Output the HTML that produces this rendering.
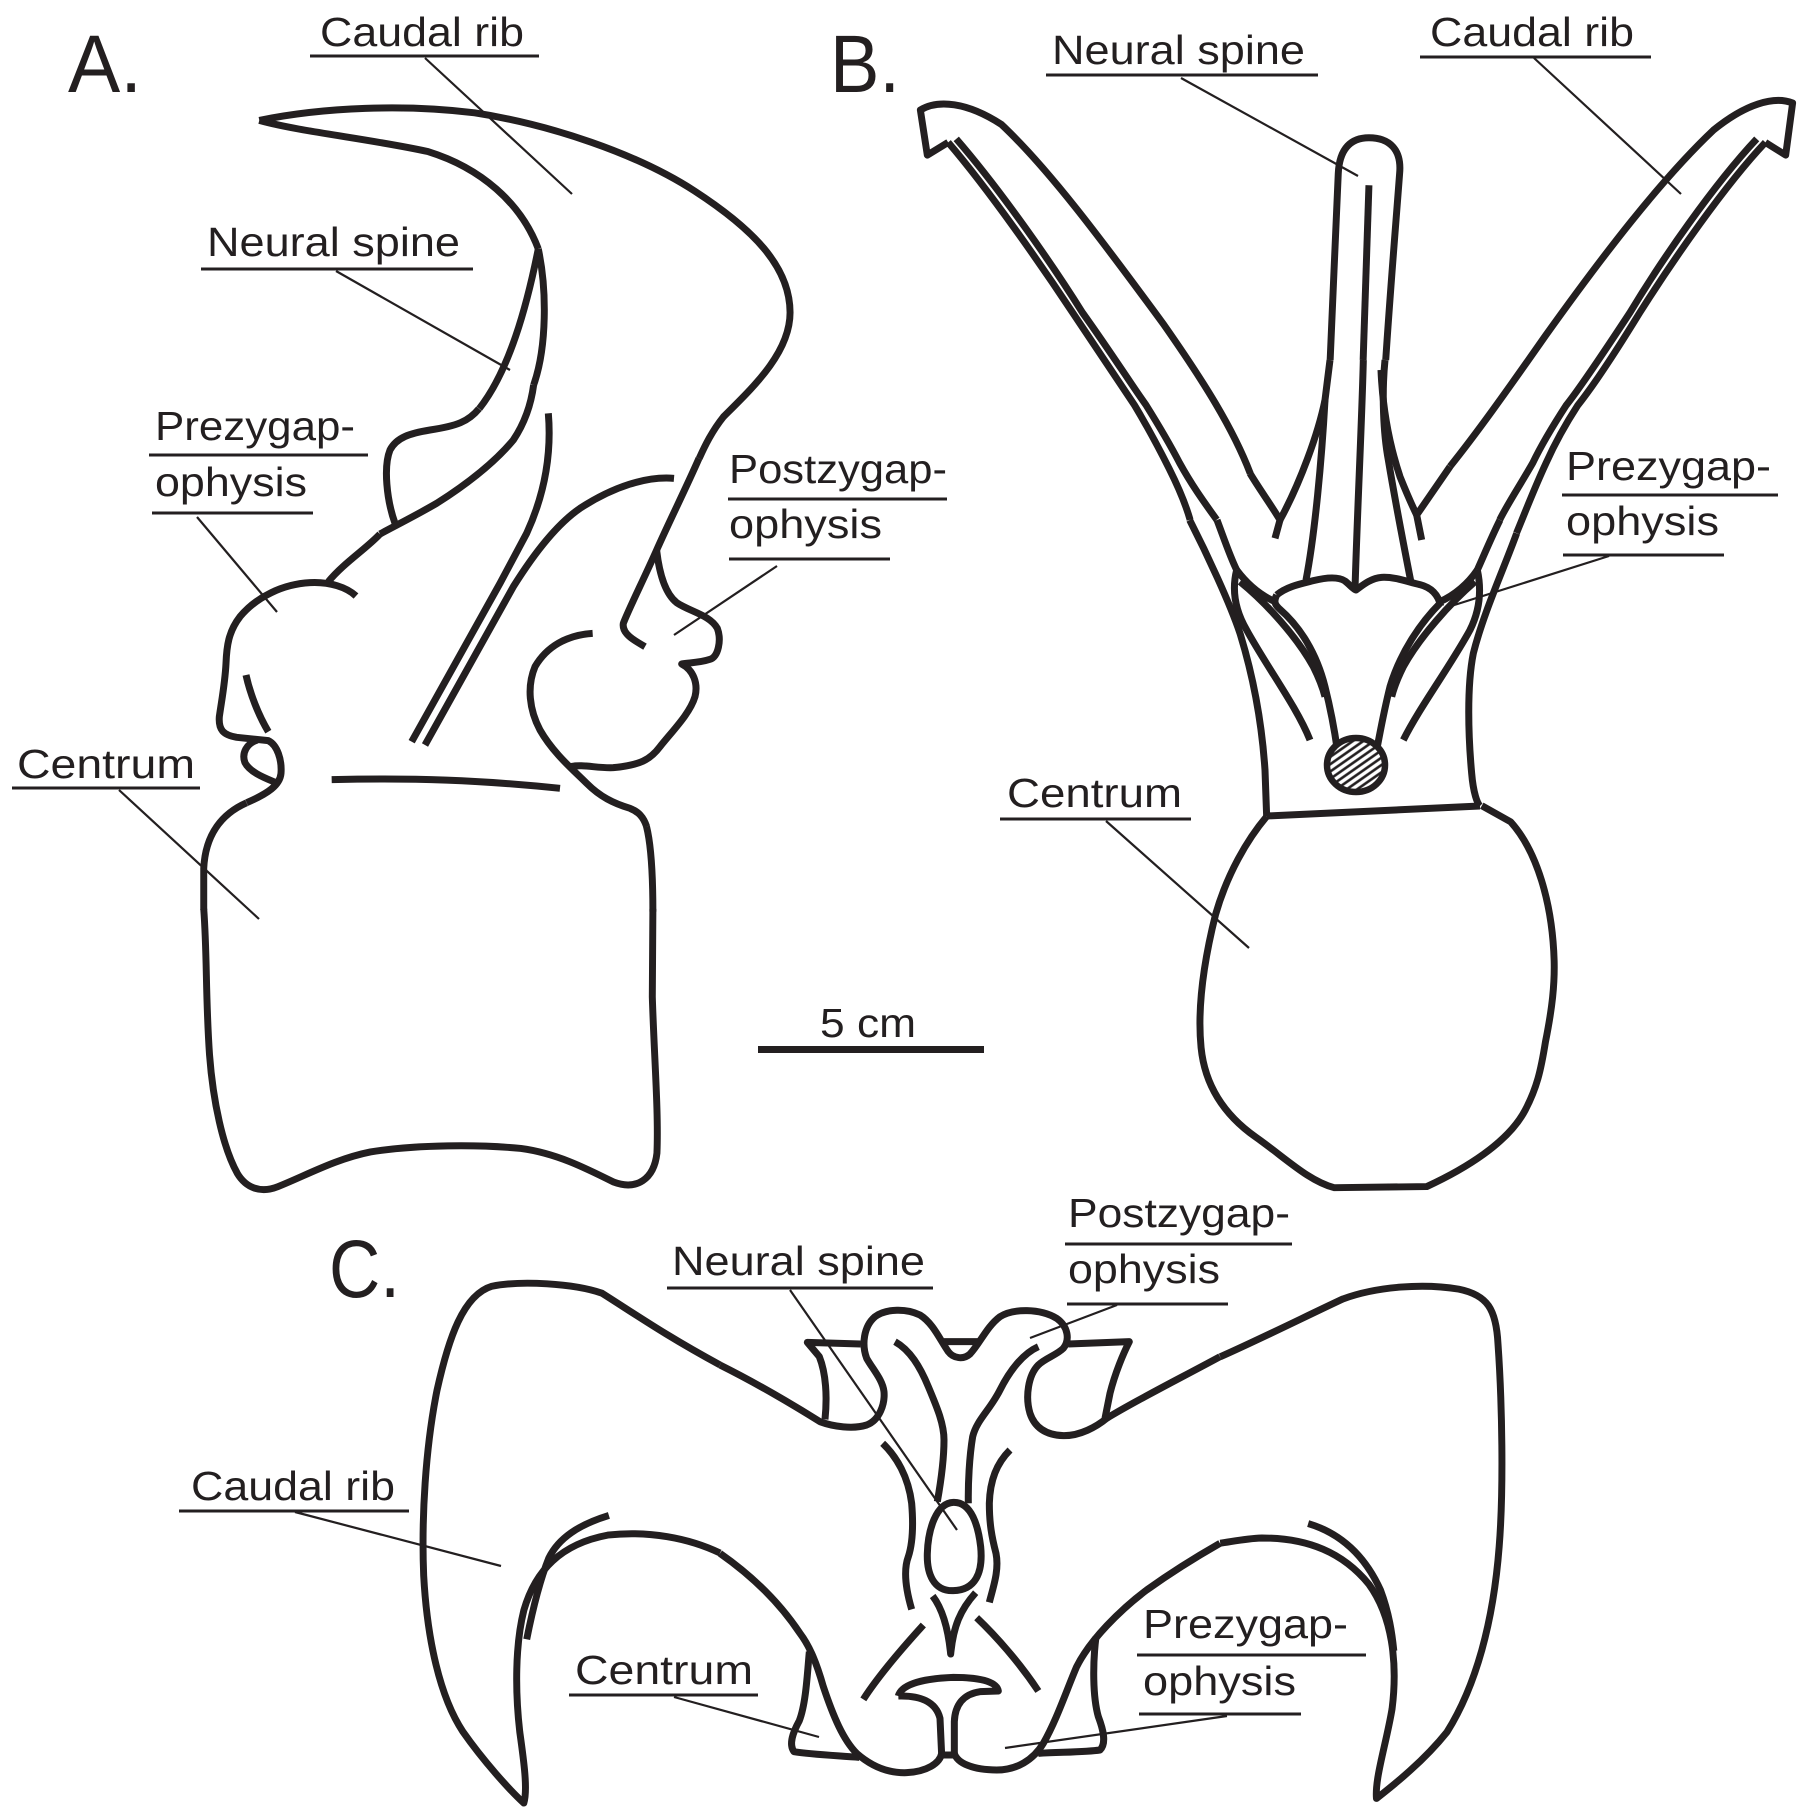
<!DOCTYPE html>
<html><head><meta charset="utf-8"><style>
html,body{margin:0;padding:0;background:#fff;}
svg{display:block;}
text{font-family:"Liberation Sans",Arial,sans-serif;fill:#231f20;}
</style></head><body>
<svg width="1806" height="1820" viewBox="0 0 1806 1820" xmlns="http://www.w3.org/2000/svg">
<defs>
<pattern id="hatch" patternUnits="userSpaceOnUse" width="6" height="6" patternTransform="rotate(-35)">
<rect width="6" height="6" fill="#fff"/><line x1="0" y1="3" x2="6" y2="3" stroke="#231f20" stroke-width="2.6"/>
</pattern>
</defs>
<rect width="1806" height="1820" fill="#fff"/>

<g fill="none" stroke="#231f20" stroke-linejoin="round">
<!-- ===== A ===== -->
<g transform="scale(0.5788)" stroke-width="12">
<path d="M448,208 C560,185 700,180 820,195 C950,215 1100,265 1200,330 C1300,395 1365,460 1365,540 C1365,610 1300,670 1250,720 C1230,745 1218,770 1208,792"/>
<path d="M448,208 C520,228 640,240 740,262 C830,290 900,350 930,430"/>
<path d="M930,430 C910,530 880,640 828,706"/>
<path d="M930,430 C945,500 945,600 922,665"/>
<path d="M426,1387 C385,1405 355,1440 352,1500 L352,1572"/>
<path d="M1117,1428 C1125,1460 1128,1520 1128,1575"/>
</g>
<g transform="translate(380,380) scale(0.33333)" stroke-width="21">
<path d="M957,235 C920,320 870,420 830,510 C790,600 745,690 730,730 C725,760 760,780 795,800"/>
<path d="M297,86 C265,125 230,138 150,150 C90,160 50,172 30,210 C10,260 20,360 45,430"/>
<path d="M461,14 C455,60 440,120 400,180 C350,240 280,300 170,370 C110,405 50,435 0,462"/>
<path d="M638,760 C560,765 500,800 465,860 C440,920 448,990 480,1050 C520,1120 580,1170 620,1210 C660,1250 700,1270 750,1285 C775,1295 790,1310 800,1340"/>
<path d="M830,512 C838,580 855,640 890,668 C930,695 990,705 1012,745 C1025,780 1015,830 990,838 C960,848 930,848 905,852 C940,870 955,910 945,950 C930,1000 880,1050 840,1100 C810,1140 780,1155 700,1163 C650,1165 610,1152 570,1160"/>
<path d="M505,100 C515,220 495,340 440,460 L360,610 L95,1085"/>
<path d="M882,295 C800,288 700,320 600,385 C520,440 450,540 400,620 L135,1095"/>
<path d="M-145,1199 C100,1193 300,1200 540,1225"/>
</g>
<g transform="translate(200,540) scale(0.33333)" stroke-width="21">
<path d="M540,-18 C500,25 430,70 385,125"/>
<path d="M468,168 C440,142 390,125 330,128 C250,132 170,170 120,230 C85,275 80,320 78,370 C75,430 65,480 58,530 C55,570 70,585 110,592 L205,602 C232,615 246,660 243,700 C240,735 205,760 140,788"/>
<path d="M172,600 C140,610 124,640 135,668 C150,698 200,716 228,728"/>
<path d="M138,405 C150,460 175,525 205,575"/>
</g>
<g transform="translate(0,910) scale(0.5788)" stroke-width="12">
<path d="M352,-2 C358,80 355,150 362,250 C368,330 385,410 410,455 C425,480 450,490 480,478 C530,458 580,430 640,418 C720,405 830,405 900,412 C960,420 1010,445 1060,470 C1100,485 1130,465 1135,420 C1138,350 1130,250 1127,150 L1128,-2"/>
</g>

<!-- ===== B ===== -->
<g transform="translate(903,0) scale(0.5788)" stroke-width="12">
<path d="M78,246 L42,268 L30,190 C60,172 110,176 170,215 C250,290 340,410 450,560 C520,660 570,740 600,818"/>
<path d="M78,246 C150,330 240,460 293,540 C340,610 380,670 400,700 C430,750 450,790 460,810 C475,840 488,870 496,898"/>
<path d="M92,240 C170,330 260,460 310,540 C360,610 395,665 420,700 C445,740 465,775 478,800 C500,840 522,870 542,898"/>
<path d="M1490,246 L1525,268 L1537,178 C1505,165 1455,180 1400,225 C1310,310 1210,440 1110,580 C1040,680 990,750 945,806"/>
<path d="M1490,246 C1420,320 1330,450 1273,540 C1230,610 1190,670 1166,700 C1140,740 1120,780 1111,800 C1090,845 1075,885 1060,921"/>
<path d="M1475,240 C1400,320 1310,450 1256,540 C1210,610 1170,670 1146,700 C1120,740 1100,775 1088,800 C1065,840 1045,870 1031,898"/>
<path d="M738,622 C742,520 748,400 752,300 C754,255 775,238 805,238 C840,238 862,258 858,300 C852,380 842,500 834,622"/>
<path d="M805,320 C802,420 798,520 795,622"/>
<path d="M628,1411 C595,1450 560,1510 540,1580 C520,1660 508,1740 515,1810 C522,1880 560,1930 610,1965 C660,2000 700,2040 745,2052 L905,2050 C970,2020 1045,1975 1075,1918 C1095,1880 1102,1850 1110,1800 C1122,1740 1126,1700 1125,1660 C1122,1560 1095,1470 1050,1420 L1000,1392"/>
</g>
<g transform="translate(1250,360) scale(0.33333)" stroke-width="21">
<path d="M0,340 C30,390 60,430 90,480 L75,535"/>
<path d="M600,320 L500,465 L515,540"/>
<path d="M240,0 L225,120 C205,220 150,370 90,480"/>
<path d="M225,120 C215,300 195,520 168,660"/>
<path d="M340,0 C335,200 322,450 315,688"/>
<path d="M405,0 C395,100 400,220 415,300 C435,420 462,560 482,662"/>
<path d="M393,30 C398,150 420,260 450,350 C470,400 488,440 500,465"/>
<path d="M80,705 C110,680 150,672 190,662 C230,652 265,650 285,663 C300,675 310,688 318,690 C335,678 360,655 395,652 C435,650 470,665 510,674 C545,683 565,705 572,738"/>
</g>
<g transform="translate(1140,520) scale(0.33333)" stroke-width="21">
<path d="M149,0 C200,100 270,250 300,340 C340,470 365,600 375,750 L380,890"/>
<path d="M231,0 C250,50 270,110 290,150"/>
<path d="M290,150 C320,190 360,225 405,245"/>
<path d="M290,150 C275,210 285,270 320,330 C380,440 470,560 510,660"/>
<path d="M300,185 C380,250 470,350 520,440 C540,480 550,510 555,530"/>
<path d="M410,225 C400,245 405,255 420,268 C480,320 530,400 555,500 C575,580 585,640 592,690"/>
<path d="M900,250 C840,310 780,400 750,500 C730,580 720,640 710,690"/>
<path d="M1005,185 C930,250 840,350 790,440 C770,480 760,510 755,530"/>
<path d="M1012,150 C1025,210 1020,270 990,330 C930,440 840,560 790,660"/>
<path d="M1012,150 C985,190 945,225 900,245"/>
<path d="M1080,0 C1055,50 1030,110 1012,150"/>
<path d="M1130,40 C1090,150 1030,280 1000,400 C980,500 985,650 995,760 C1000,820 1012,850 1020,858"/>
<path d="M380,888 L1020,858"/>
</g>
<ellipse cx="1356" cy="765" rx="29" ry="27" fill="url(#hatch)" stroke-width="6.5"/>

<!-- ===== C ===== -->
<g transform="translate(0,910) scale(0.5788)" stroke-width="12">
<path d="M1244,786 C1150,735 1100,700 1040,662 C990,645 900,640 850,650 C800,665 775,740 755,830 C735,930 728,1050 732,1150 C738,1260 760,1360 800,1420 C835,1470 880,1520 905,1543 C912,1520 905,1470 898,1420 C890,1350 890,1270 905,1210 C925,1140 970,1095 1050,1080 C1120,1072 1190,1085 1244,1111"/>
<path d="M1052,1046 C1000,1062 965,1085 948,1120 C932,1160 920,1210 910,1260"/>
</g>
<g transform="translate(903,910) scale(0.5788)" stroke-width="12">
<path d="M548,772 C620,740 700,700 760,672 C820,650 900,645 960,655 C1010,665 1025,690 1028,750 C1035,850 1038,1000 1030,1100 C1020,1230 990,1340 940,1420 C900,1470 850,1510 818,1535 C815,1500 835,1440 845,1380 C855,1300 845,1220 805,1165 C760,1110 700,1085 620,1085 C590,1086 565,1092 548,1094"/>
<path d="M700,1060 C760,1078 800,1120 825,1175 C840,1215 845,1250 848,1280"/>
</g>
<g transform="translate(720,1290) scale(0.33333)" stroke-width="21">
<path d="M0,225 C100,275 220,345 300,395 C340,410 400,418 440,405 C480,390 495,340 492,305 C488,270 460,240 440,205 C425,165 430,110 465,80 C500,55 560,55 600,75 C640,100 660,150 685,185 C700,205 730,210 750,192 C780,160 800,110 840,80 C880,55 960,55 1010,85 C1045,110 1050,150 1030,175 C1010,195 975,205 955,225 C925,255 915,320 930,370 C945,415 980,435 1030,437 C1080,438 1130,410 1160,385 C1250,330 1380,265 1500,200"/>
<path d="M315,388 C322,320 318,250 298,200 L262,157 L422,162"/>
<path d="M1045,162 L1228,155 C1210,190 1185,250 1170,310 L1155,385"/>
<path d="M672,155 L778,155"/>
<path d="M525,155 C570,180 600,230 625,290 C650,350 672,400 672,450 C672,520 660,590 652,635"/>
<path d="M955,170 C910,190 870,240 840,300 C810,360 770,390 758,440 C748,500 744,580 745,640"/>
<path d="M700,637 C755,635 775,710 782,770 C790,850 765,900 700,902 C640,904 620,850 622,790 C624,720 648,639 700,637 Z"/>
<path d="M488,460 C530,500 565,560 575,640 C580,700 578,760 565,800 C550,840 558,900 575,958"/>
<path d="M870,480 C830,520 810,570 808,640 C808,700 815,740 828,790 C838,840 820,890 808,937"/>
<path d="M638,918 C670,960 685,1020 692,1092 C700,1010 720,960 767,908"/>
<path d="M610,1005 C560,1060 480,1150 430,1228"/>
<path d="M770,983 C830,1040 900,1120 955,1203"/>
<path d="M535,1218 C545,1180 620,1165 700,1162 C770,1162 830,1172 835,1203 L780,1205 C730,1212 705,1245 703,1295 L703,1395"/>
<path d="M535,1218 C600,1216 648,1235 660,1285 L665,1395"/>
<path d="M665,1390 C660,1420 620,1445 560,1448 C500,1450 450,1425 410,1390 C370,1350 340,1280 310,1190 C290,1120 270,1070 240,1030 C180,940 100,860 0,790"/>
<path d="M703,1390 C712,1420 760,1440 830,1440 C890,1440 940,1410 970,1360 C1010,1290 1040,1200 1070,1130 C1110,1050 1200,960 1280,900 C1350,850 1430,800 1500,760"/>
<path d="M665,1395 L703,1395"/>
<path d="M268,1085 C262,1150 258,1240 238,1292 C220,1325 205,1362 222,1385 C270,1393 340,1396 418,1402"/>
<path d="M1128,1040 C1118,1120 1118,1220 1135,1280 C1150,1320 1160,1360 1140,1380 C1100,1386 1030,1386 955,1390"/>
</g>

<!-- leaders -->
<g stroke-width="2.2">
<line x1="425" y1="58" x2="572" y2="194"/>
<line x1="336" y1="271" x2="510" y2="370"/>
<line x1="197" y1="517" x2="277" y2="612"/>
<line x1="777" y1="566" x2="674" y2="635"/>
<line x1="119" y1="790" x2="259" y2="919"/>
<line x1="1181" y1="78" x2="1358" y2="176"/>
<line x1="1534" y1="58" x2="1681" y2="194"/>
<line x1="1609" y1="556" x2="1448" y2="607"/>
<line x1="1106" y1="821" x2="1249" y2="948"/>
<line x1="790" y1="1290" x2="957" y2="1530"/>
<line x1="1117" y1="1305" x2="1030" y2="1338"/>
<line x1="295" y1="1512" x2="501" y2="1566"/>
<line x1="674" y1="1697" x2="819" y2="1737"/>
<line x1="1227" y1="1716" x2="1005" y2="1748"/>
</g>
<!-- underlines -->
<g stroke-width="3">
<line x1="310" y1="56" x2="539" y2="56"/>
<line x1="201" y1="269" x2="473" y2="269"/>
<line x1="149" y1="455" x2="368" y2="455"/>
<line x1="152" y1="513" x2="313" y2="513"/>
<line x1="728" y1="499" x2="947" y2="499"/>
<line x1="729" y1="559" x2="890" y2="559"/>
<line x1="12" y1="788" x2="200" y2="788"/>
<line x1="1046" y1="75" x2="1318" y2="75"/>
<line x1="1420" y1="57" x2="1651" y2="57"/>
<line x1="1562" y1="495" x2="1778" y2="495"/>
<line x1="1563" y1="555" x2="1724" y2="555"/>
<line x1="1000" y1="819" x2="1191" y2="819"/>
<line x1="667" y1="1288" x2="933" y2="1288"/>
<line x1="1065" y1="1244" x2="1292" y2="1244"/>
<line x1="1067" y1="1304" x2="1228" y2="1304"/>
<line x1="179" y1="1511" x2="409" y2="1511"/>
<line x1="569" y1="1695" x2="758" y2="1695"/>
<line x1="1137" y1="1655" x2="1366" y2="1655"/>
<line x1="1139" y1="1714" x2="1301" y2="1714"/>
</g>
</g>
<rect x="758" y="1046" width="226" height="7" fill="#231f20"/>

<!-- text -->
<g font-size="41">
<text x="320" y="46" textLength="204" lengthAdjust="spacingAndGlyphs">Caudal rib</text>
<text x="207" y="256" textLength="253" lengthAdjust="spacingAndGlyphs">Neural spine</text>
<text x="155" y="440" textLength="200" lengthAdjust="spacingAndGlyphs">Prezygap-</text>
<text x="155" y="496" textLength="152" lengthAdjust="spacingAndGlyphs">ophysis</text>
<text x="729" y="483" textLength="218" lengthAdjust="spacingAndGlyphs">Postzygap-</text>
<text x="729" y="538" textLength="153" lengthAdjust="spacingAndGlyphs">ophysis</text>
<text x="17" y="778" textLength="178" lengthAdjust="spacingAndGlyphs">Centrum</text>
<text x="1052" y="64" textLength="253" lengthAdjust="spacingAndGlyphs">Neural spine</text>
<text x="1430" y="46" textLength="204" lengthAdjust="spacingAndGlyphs">Caudal rib</text>
<text x="1566" y="480" textLength="205" lengthAdjust="spacingAndGlyphs">Prezygap-</text>
<text x="1566" y="535" textLength="153" lengthAdjust="spacingAndGlyphs">ophysis</text>
<text x="1007" y="807" textLength="175" lengthAdjust="spacingAndGlyphs">Centrum</text>
<text x="672" y="1275" textLength="253" lengthAdjust="spacingAndGlyphs">Neural spine</text>
<text x="1068" y="1227" textLength="222" lengthAdjust="spacingAndGlyphs">Postzygap-</text>
<text x="1068" y="1283" textLength="152" lengthAdjust="spacingAndGlyphs">ophysis</text>
<text x="191" y="1500" textLength="204" lengthAdjust="spacingAndGlyphs">Caudal rib</text>
<text x="575" y="1684" textLength="178" lengthAdjust="spacingAndGlyphs">Centrum</text>
<text x="1143" y="1638" textLength="205" lengthAdjust="spacingAndGlyphs">Prezygap-</text>
<text x="1143" y="1695" textLength="153" lengthAdjust="spacingAndGlyphs">ophysis</text>
<text x="820" y="1037" textLength="96" lengthAdjust="spacingAndGlyphs">5 cm</text>
</g>
<g font-size="82">
<text x="68" y="92" textLength="74" lengthAdjust="spacingAndGlyphs">A.</text>
<text x="830" y="92" textLength="70" lengthAdjust="spacingAndGlyphs">B.</text>
<text x="329" y="1297" textLength="71" lengthAdjust="spacingAndGlyphs">C.</text>
</g>
</svg>
</body></html>
